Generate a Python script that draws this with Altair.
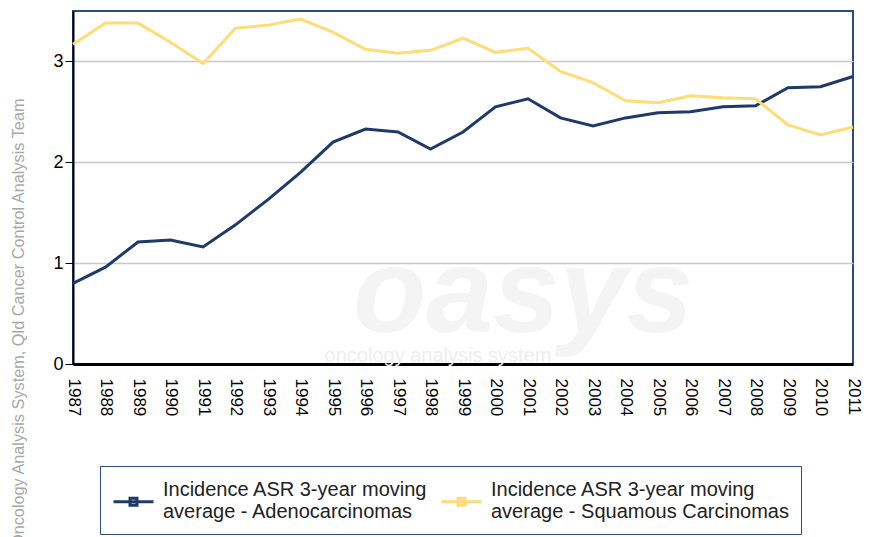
import altair as alt
import pandas as pd

years = [1987, 1988, 1989, 1990, 1991, 1992, 1993, 1994, 1995, 1996, 1997, 1998,
         1999, 2000, 2001, 2002, 2003, 2004, 2005, 2006, 2007, 2008, 2009, 2010, 2011]
adeno = [0.80, 0.96, 1.21, 1.23, 1.16, 1.38, 1.63, 1.90, 2.20, 2.33, 2.30, 2.13,
         2.30, 2.55, 2.63, 2.44, 2.36, 2.44, 2.49, 2.50, 2.55, 2.56, 2.74, 2.75, 2.85]
squam = [3.17, 3.38, 3.38, 3.19, 2.98, 3.33, 3.36, 3.42, 3.29, 3.12, 3.08, 3.11,
         3.23, 3.09, 3.13, 2.90, 2.79, 2.61, 2.59, 2.66, 2.64, 2.63, 2.37, 2.27, 2.35]
series_names = ["Incidence ASR 3-year moving average - Adenocarcinomas",
                "Incidence ASR 3-year moving average - Squamous Carcinomas"]
series_colors = ["#1f3a68", "#fedc78"]
y_ticks = [0, 1, 2, 3]
credit = "Oncology Analysis System, Qld Cancer Control Analysis Team"

rows = []
for name, vals in zip(series_names, [adeno, squam]):
    for yr, v in zip(years, vals):
        rows.append({"year": str(yr), "value": v, "series": name})
df = pd.DataFrame(rows)

W, H = 780, 353

wm = alt.Chart(pd.DataFrame({"t": ["oasys"]})).mark_text(
    font="Liberation Sans", fontSize=120, fontStyle="italic", fontWeight="bold",
    color="#f4f4f4", align="center", baseline="middle"
).encode(text="t:N", x=alt.value(450), y=alt.value(285))

wm2 = alt.Chart(pd.DataFrame({"t": ["oncology analysis system"]})).mark_text(
    font="Liberation Sans", fontSize=20, color="#eeeeee", align="center", baseline="middle"
).encode(text="t:N", x=alt.value(365), y=alt.value(345))

legend_symbol = ("M-1,1.2L3,1.2"
                 "M0.65,0.85L1.35,0.85L1.35,1.55L0.65,1.55Z")

lines = alt.Chart(df).mark_line(strokeWidth=3).encode(
    x=alt.X("year:O", scale=alt.Scale(type="point", padding=0),
            axis=alt.Axis(title=None, labelAngle=90, ticks=False, labelPadding=14,
                          labelFontSize=17, labelColor="#000", domainColor="#000",
                          domainWidth=3, labelFont="Liberation Sans")),
    y=alt.Y("value:Q", scale=alt.Scale(domain=[0, 3.5], nice=False),
            axis=alt.Axis(values=y_ticks, title=credit, titleAngle=270, titleAlign="right",
                          titleBaseline="middle",
                          titleX=-55, titleY=87, titleFontSize=16.3, titleFontWeight="normal",
                          titleColor="#a8a8a8", titleFont="Liberation Sans",
                          labelFontSize=18, labelColor="#000", labelPadding=2,
                          labelFont="Liberation Sans",
                          tickSize=8, tickColor="#000", domainColor="#000", domainWidth=2,
                          grid=True, gridColor="#c8c8c8", gridWidth=1.5)),
    color=alt.Color("series:N", scale=alt.Scale(domain=series_names, range=series_colors),
                    legend=alt.Legend(
                        title=None, orient="none", legendX=27, legendY=455,
                        direction="horizontal", columns=2, columnPadding=7,
                        padding=12, fillColor="white", strokeColor="#2f4d7e",
                        symbolType=legend_symbol,
                        symbolSize=400, symbolStrokeWidth=3, labelOffset=28,
                        labelFontSize=20, labelFont="Liberation Sans", labelColor="#222",
                        labelLimit=400,
                        labelExpr="[slice(datum.label,0,27), slice(datum.label,28)]")),
)

chart = alt.layer(wm, wm2, lines).properties(
    width=W, height=H,
    autosize=alt.AutoSizeParams(type="none"),
    padding={"left": 65, "top": 3, "right": 20, "bottom": 173},
).configure_view(stroke="#2c4a7c", strokeWidth=2)

chart.save("out.html", embed_options={"renderer": "svg", "actions": False})
